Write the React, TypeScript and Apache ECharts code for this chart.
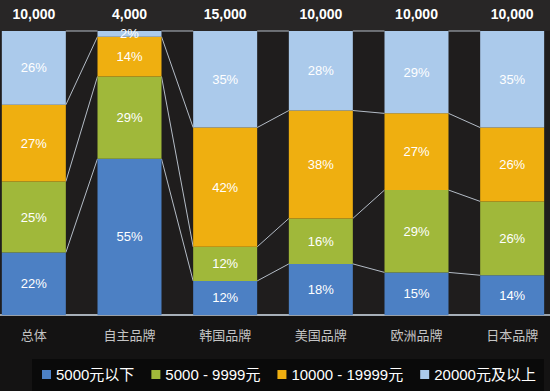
import React, { useEffect, useRef } from "react";
import * as echarts from "echarts";

const categories = ["总体", "自主品牌", "韩国品牌", "美国品牌", "欧洲品牌", "日本品牌"];
const totals = [10000, 4000, 15000, 10000, 10000, 10000];
const seriesNames = ["5000元以下", "5000 - 9999元", "10000 - 19999元", "20000元及以上"];
const below5000 = [22, 55, 12, 18, 15, 14];
const from5000 = [25, 29, 12, 16, 29, 26];
const from10000 = [27, 14, 42, 38, 27, 26];
const above20000 = [26, 2, 35, 28, 29, 35];

const colors = ["#4c80c4", "#a0b83a", "#efaf10", "#abcaeb"];

const OFFSET = 14;
const CHART_W = 574;

export default function App() {
  const ref = useRef<HTMLDivElement>(null);
  useEffect(() => {
    if (!ref.current) return;
    const chart = echarts.init(ref.current, null, { renderer: "svg" });
    const allSeries = [below5000, from5000, from10000, above20000];
    const halfBar = 32;

    const barSeries = allSeries.map((vals, si) => ({
      name: seriesNames[si],
      type: "bar",
      stack: "total",
      barWidth: 64,
      data: vals,
      itemStyle: { color: colors[si] },
      label: {
        show: true,
        position: "inside",
        formatter: "{c}%",
        color: "#ffffff",
        fontSize: 13,
        fontFamily: "Liberation Sans, Arial, sans-serif",
      },
      z: 3,
    }));

    const connector = {
      type: "custom",
      name: "connector",
      data: categories.slice(0, categories.length - 1).map((_, i) => [i]),
      silent: true,
      z: 2,
      renderItem: (params: any, api: any) => {
        const i = api.value(0);
        const cumA: number[] = [0];
        const cumB: number[] = [0];
        allSeries.forEach((s) => {
          cumA.push(Math.min(100, cumA[cumA.length - 1] + s[i]));
          cumB.push(Math.min(100, cumB[cumB.length - 1] + s[i + 1]));
        });
        const children = cumA.map((a, k) => {
          const p1 = api.coord([i, a]);
          const p2 = api.coord([i + 1, cumB[k]]);
          return {
            type: "line",
            shape: { x1: p1[0] + halfBar, y1: p1[1], x2: p2[0] - halfBar, y2: p2[1] },
            style: { stroke: "#b4bcc6", lineWidth: 1 },
          };
        });
        return { type: "group", children };
      },
    };

    chart.setOption({
      animation: false,
      backgroundColor: "#141313",
      graphic: [
        {
          type: "rect",
          left: 0,
          top: 0,
          shape: { width: CHART_W, height: 31 },
          style: { fill: "#282626" },
          z: -10,
        },
      ],
      grid: {
        left: 0,
        right: 0,
        top: 31,
        bottom: 76,
        show: true,
        backgroundColor: "#1f1d1d",
        borderWidth: 0,
      },
      legend: {
        data: seriesNames,
        left: 32 + OFFSET,
        top: 359,
        padding: [8, 8, 10, 10],
        backgroundColor: "#0a0a0a",
        itemWidth: 9,
        itemHeight: 9,
        itemGap: 17,
        icon: "rect",
        textStyle: {
          color: "#ffffff",
          fontSize: 15,
          fontFamily: "Liberation Sans, Arial, Noto Sans CJK SC, sans-serif",
        },
      },
      xAxis: [
        {
          type: "category",
          data: categories,
          position: "bottom",
          axisLine: { show: true, lineStyle: { color: "#c4d0dc", width: 1.5 } },
          axisTick: { show: false },
          axisLabel: {
            color: "#c4c4c4",
            fontSize: 13,
            margin: 13,
            fontFamily: "Noto Sans CJK SC, sans-serif",
          },
        },
        {
          type: "category",
          data: totals.map((t) => t.toLocaleString("en-US")),
          position: "top",
          axisLine: { show: false },
          axisTick: { show: false },
          axisLabel: {
            color: "#ffffff",
            fontSize: 14,
            fontWeight: "bold",
            margin: 10,
            fontFamily: "Liberation Sans, Arial, sans-serif",
          },
        },
      ],
      yAxis: {
        type: "value",
        min: 0,
        max: 100,
        show: false,
        splitLine: { show: false },
      },
      series: [...barSeries, connector],
    });
    return () => chart.dispose();
  }, []);
  return (
    <div style={{ position: "absolute", left: 0, top: 0, width: 550, height: 391, overflow: "hidden" }}>
      <div
        ref={ref}
        style={{ position: "absolute", left: -OFFSET, top: 0, width: CHART_W, height: 391 }}
      />
    </div>
  );
}
